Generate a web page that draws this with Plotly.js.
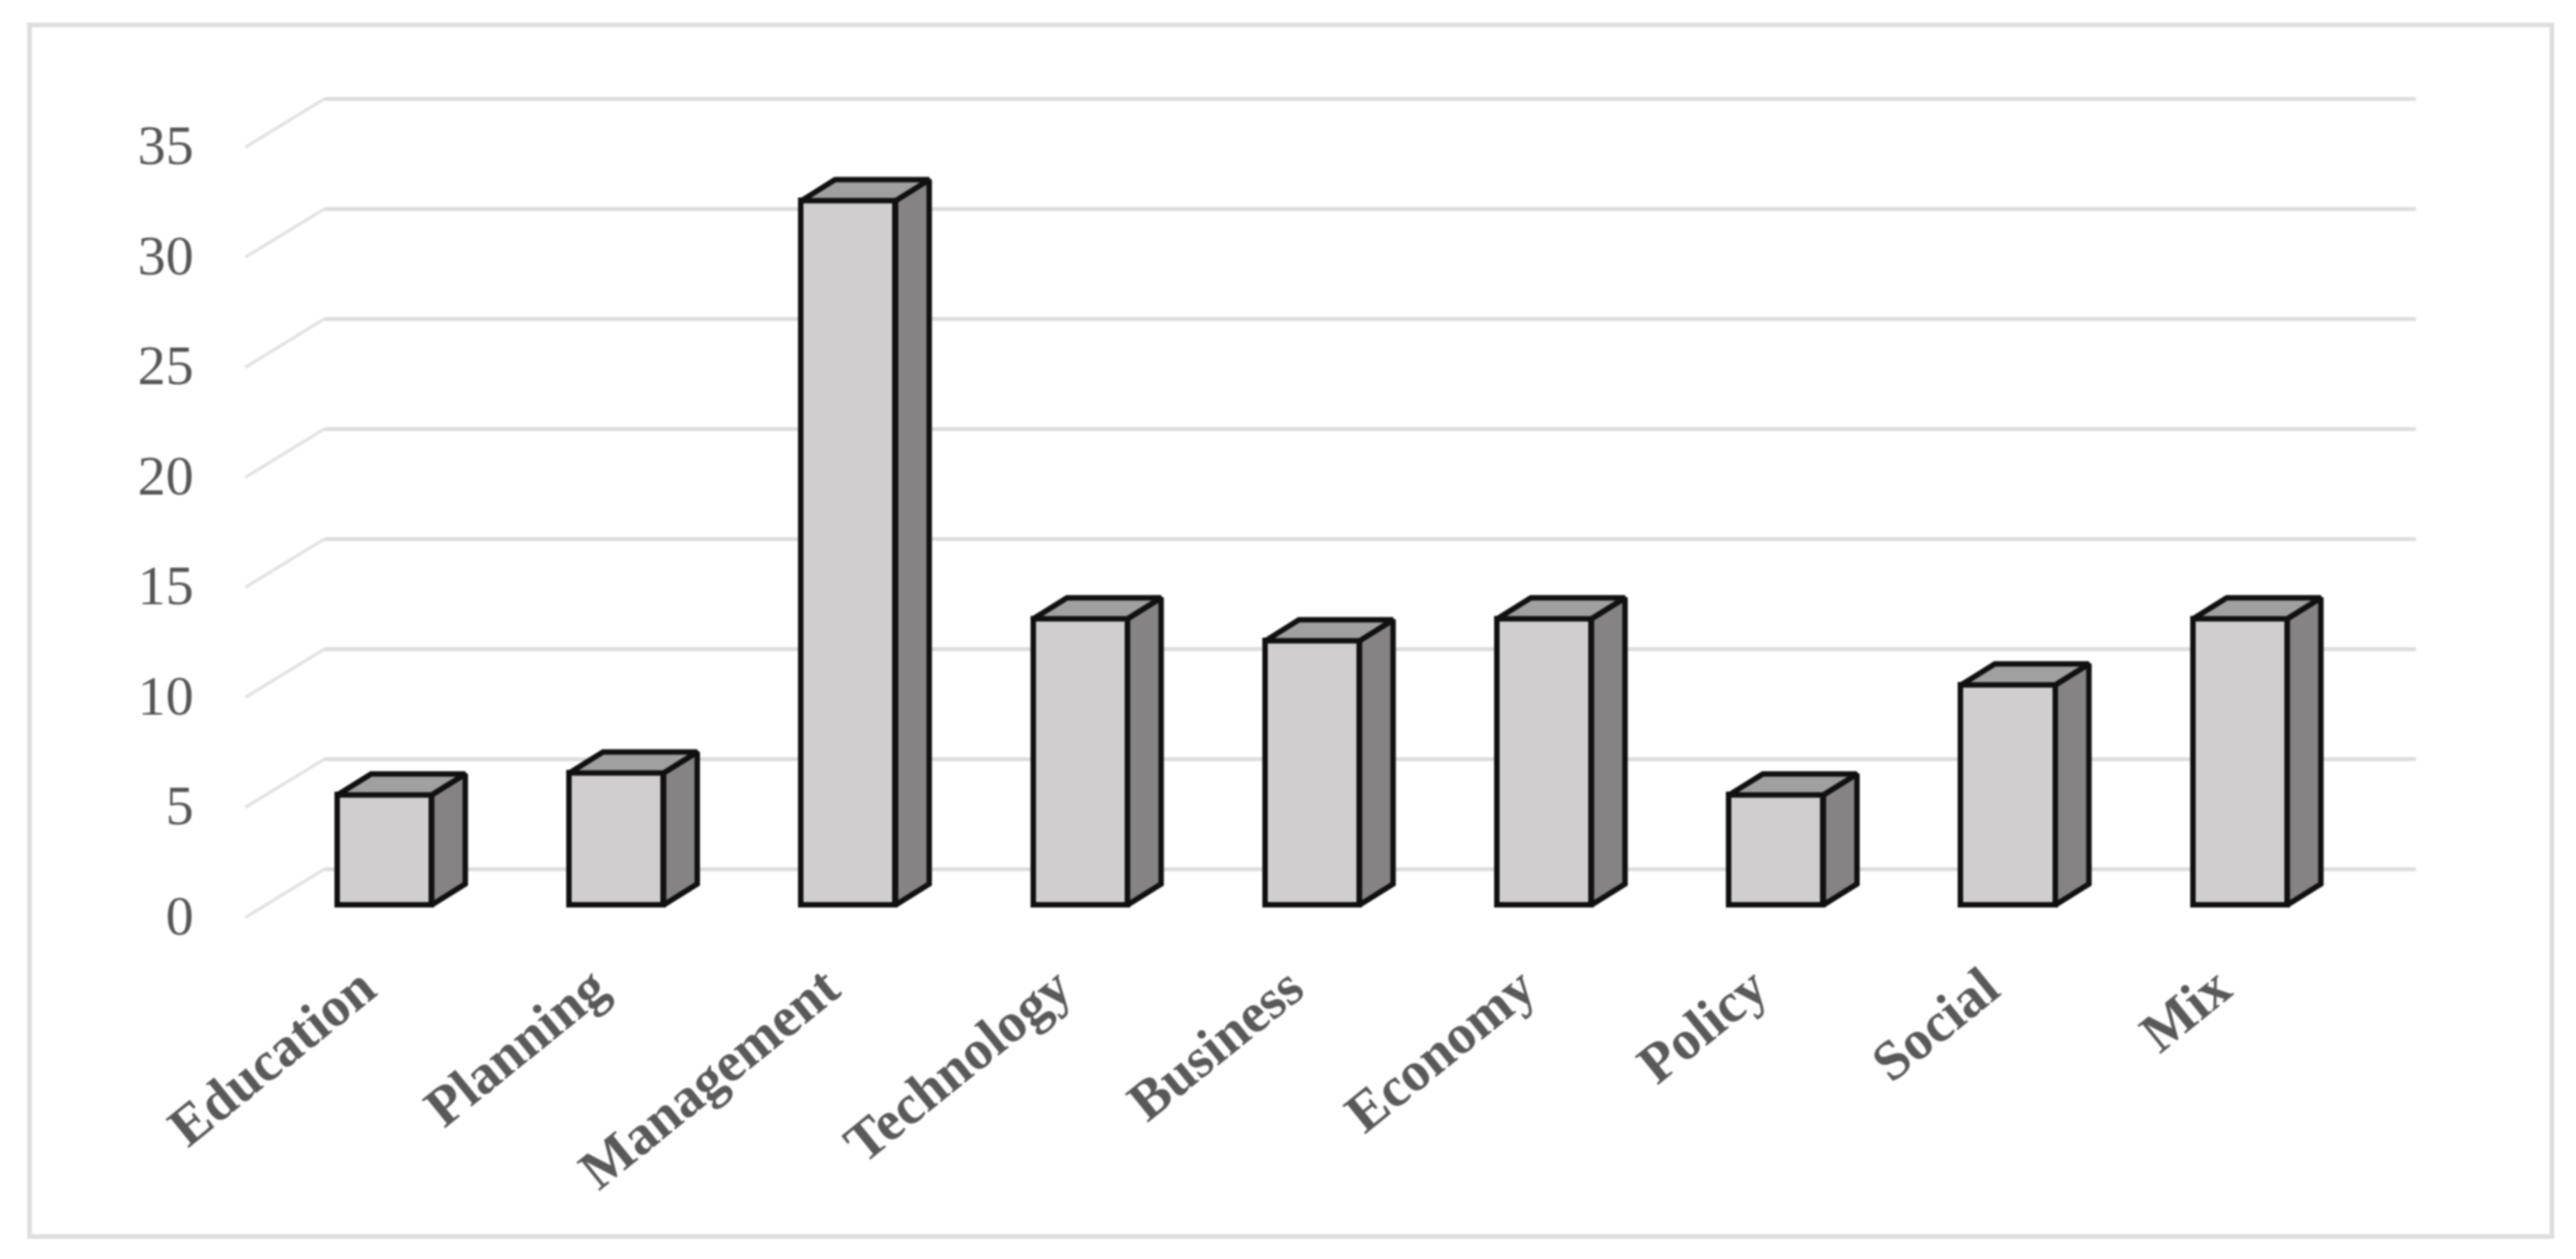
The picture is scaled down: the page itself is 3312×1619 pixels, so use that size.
<!DOCTYPE html>
<html>
<head>
<meta charset="utf-8">
<script src="https://cdn.plot.ly/plotly-3.0.1.min.js"></script>
<style>html,body{margin:0;padding:0;background:#fff}#chart{filter:blur(1px)}</style>
</head>
<body>
<div id="chart" style="width:3312px;height:1619px"></div>
<script>
const categories = ["Education","Planning","Management","Technology","Business","Economy","Policy","Social","Mix"];
const counts = [5,6,32,13,12,13,5,10,13];
const yTicks = [0,5,10,15,20,25,30,35];

const barWidth = 0.406, depthX = 0.145, depthY = 0.954, barBase = 0.459;
const wallRise = 2.085, floorFront = -0.106, wallLeft = -0.26, floorLeft = -0.6, wallRight = 8.758;
const labelShift = -0.1;
const xs = categories.map((_, i) => i);

const sideX = [], sideY = [], topX = [], topY = [];
xs.forEach((x, i) => {
  const xl = x - barWidth / 2, xr = x + barWidth / 2, t = barBase + counts[i];
  sideX.push(xr, xr + depthX, xr + depthX, xr, xr, null);
  sideY.push(barBase, barBase + depthY, t + depthY, t, barBase, null);
  topX.push(xl, xr, xr + depthX, xl + depthX, xl, null);
  topY.push(t, t, t + depthY, t + depthY, t, null);
});
const edge = {color: "#101010", width: 7};
const traces = [
  {type: "bar", x: xs, y: counts, base: barBase, width: barWidth,
   marker: {color: "#d0cece", line: edge}, hoverinfo: "x+y", showlegend: false},
  {type: "scatter", mode: "lines", x: sideX, y: sideY, fill: "toself", fillcolor: "#858383",
   line: edge, hoverinfo: "skip", showlegend: false},
  {type: "scatter", mode: "lines", x: topX, y: topY, fill: "toself", fillcolor: "#a0a0a0",
   line: edge, hoverinfo: "skip", showlegend: false}
];

const gridLine = {color: "#dcdcdc", width: 5};
const shapes = [];
yTicks.forEach(v => {
  shapes.push({type: "line", layer: "below", xref: "x", yref: "y", x0: wallLeft, x1: wallRight,
    y0: v + wallRise, y1: v + wallRise, line: gridLine});
  shapes.push({type: "line", layer: "below", xref: "x", yref: "y", x0: floorLeft, x1: wallLeft,
    y0: v + floorFront, y1: v + wallRise, line: {color: "#e2e2e2", width: 4}});
});
const W = 3312, H = 1619, L = 300, R = 192, T = 60, B = 414;
shapes.push({type: "rect", layer: "below", xref: "paper", yref: "paper",
  x0: (38 - L) / (W - L - R), x1: (3281 - L) / (W - L - R),
  y0: (H - B - 1590) / (H - T - B), y1: (H - B - 32) / (H - T - B),
  line: {color: "#dedede", width: 6}, fillcolor: "#ffffff"});

const layout = {
  width: W, height: H,
  margin: {l: L, r: R, t: T, b: B, pad: 0},
  paper_bgcolor: "#ffffff", plot_bgcolor: "rgba(0,0,0,0)",
  showlegend: false, bargap: 0,
  xaxis: {type: "linear", range: [-0.652, 8.804], tickmode: "array",
    tickvals: xs.map(x => x + labelShift), ticktext: categories,
    tickangle: -39, showgrid: false, zeroline: false, showline: false, ticks: "", ticklabelstandoff: 8,
    tickfont: {family: "Liberation Serif", size: 72, color: "#595959", weight: "bold"}},
  yaxis: {range: [-1, (H - B - T) / 28.3 - 1], tickmode: "array", tickvals: yTicks, ticktext: yTicks.map(String),
    showgrid: false, zeroline: false, showline: false, ticks: "", ticklabelstandoff: 50,
    tickfont: {family: "Liberation Serif", size: 72, color: "#555555"}},
  shapes: shapes
};
Plotly.newPlot("chart", traces, layout, {displayModeBar: false, responsive: false});
</script>
</body>
</html>
